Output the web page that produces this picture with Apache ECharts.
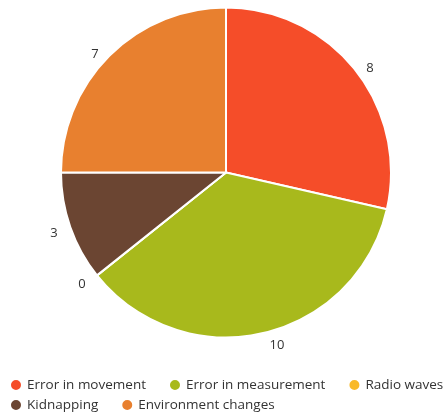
<!DOCTYPE html>
<html>
<head>
<meta charset="utf-8">
<script src="https://cdn.jsdelivr.net/npm/echarts@6/dist/echarts.min.js"></script>
<style>
  html, body { margin: 0; padding: 0; background: #fff; }
  #chart { width: 445px; height: 416px; }
</style>
</head>
<body>
<div id="chart"></div>
<script>
// Causes and their counts
const categories = ['Error in movement', 'Error in measurement', 'Radio waves', 'Kidnapping', 'Environment changes'];
const counts = [8, 10, 0, 3, 7];
const colors = ['#f54d29', '#a8b91c', '#f9b928', '#6b4532', '#e8802f'];

// legend is laid out in two rows
const legendRows = [categories.slice(0, 3), categories.slice(3)];
const legendBase = {
  left: 9,
  width: 436,
  orient: 'horizontal',
  icon: 'circle',
  itemWidth: 12,
  itemHeight: 12,
  itemGap: 22,
  padding: 0,
  textStyle: { fontFamily: 'Open Sans', fontSize: 13.5, color: '#333' }
};

const chart = echarts.init(document.getElementById('chart'));
chart.setOption({
  animation: false,
  color: colors,
  legend: legendRows.map((row, i) => Object.assign({}, legendBase, { top: 378 + i * 20, data: row })),
  series: [{
    type: 'pie',
    center: [226, 172.5],
    radius: [0, 165],
    startAngle: 90,
    clockwise: true,
    avoidLabelOverlap: false,
    itemStyle: { borderColor: '#fff', borderWidth: 2 },
    label: {
      show: true,
      position: 'outside',
      formatter: '{c}',
      fontFamily: 'Open Sans',
      fontSize: 13,
      color: '#333',
      offset: [0, 4],
      distanceToLabelLine: 5
    },
    labelLine: { show: false, length: 8, length2: 0 },
    data: categories.map((name, i) => ({ name, value: counts[i] }))
  }]
});
</script>
</body>
</html>
